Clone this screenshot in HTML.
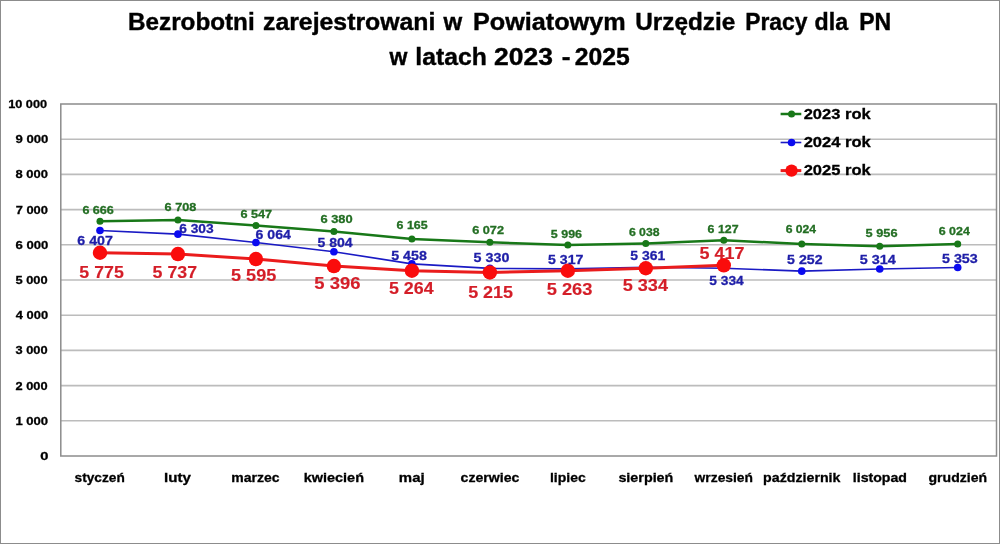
<!DOCTYPE html>
<html><head><meta charset="utf-8"><style>
html,body{margin:0;padding:0;background:#fff;}
svg{display:block;will-change:transform;}
text{font-family:"Liberation Sans", sans-serif;font-weight:bold;}
</style></head><body>
<svg width="1000" height="544" viewBox="0 0 1000 544">
<rect x="0.5" y="0.5" width="999" height="543" fill="#fff" stroke="#8c8c8c" stroke-width="1"/>
<line x1="60.8" y1="420.80" x2="996.5" y2="420.80" stroke="#bcbcbc" stroke-width="1.6"/>
<line x1="60.8" y1="385.60" x2="996.5" y2="385.60" stroke="#bcbcbc" stroke-width="1.6"/>
<line x1="60.8" y1="350.40" x2="996.5" y2="350.40" stroke="#bcbcbc" stroke-width="1.6"/>
<line x1="60.8" y1="315.20" x2="996.5" y2="315.20" stroke="#bcbcbc" stroke-width="1.6"/>
<line x1="60.8" y1="280.00" x2="996.5" y2="280.00" stroke="#bcbcbc" stroke-width="1.6"/>
<line x1="60.8" y1="244.80" x2="996.5" y2="244.80" stroke="#bcbcbc" stroke-width="1.6"/>
<line x1="60.8" y1="209.60" x2="996.5" y2="209.60" stroke="#bcbcbc" stroke-width="1.6"/>
<line x1="60.8" y1="174.40" x2="996.5" y2="174.40" stroke="#bcbcbc" stroke-width="1.6"/>
<line x1="60.8" y1="139.20" x2="996.5" y2="139.20" stroke="#bcbcbc" stroke-width="1.6"/>
<rect x="60.8" y="104.0" width="935.7" height="352.0" fill="none" stroke="#8c8c8c" stroke-width="1.5"/>
<polyline points="99.99,221.36 177.96,219.88 255.94,225.55 333.91,231.42 411.89,238.99 489.86,242.27 567.84,244.94 645.81,243.46 723.79,240.33 801.76,243.96 879.74,246.35 957.71,243.96" fill="none" stroke="#187818" stroke-width="2.5" stroke-linejoin="round"/><circle cx="99.99" cy="221.36" r="3.5" fill="#187818"/><circle cx="177.96" cy="219.88" r="3.5" fill="#187818"/><circle cx="255.94" cy="225.55" r="3.5" fill="#187818"/><circle cx="333.91" cy="231.42" r="3.5" fill="#187818"/><circle cx="411.89" cy="238.99" r="3.5" fill="#187818"/><circle cx="489.86" cy="242.27" r="3.5" fill="#187818"/><circle cx="567.84" cy="244.94" r="3.5" fill="#187818"/><circle cx="645.81" cy="243.46" r="3.5" fill="#187818"/><circle cx="723.79" cy="240.33" r="3.5" fill="#187818"/><circle cx="801.76" cy="243.96" r="3.5" fill="#187818"/><circle cx="879.74" cy="246.35" r="3.5" fill="#187818"/><circle cx="957.71" cy="243.96" r="3.5" fill="#187818"/>
<polyline points="99.99,230.47 177.96,234.13 255.94,242.55 333.91,251.70 411.89,263.88 489.86,268.38 567.84,268.84 645.81,267.29 723.79,268.24 801.76,271.13 879.74,268.95 957.71,267.57" fill="none" stroke="#1a1ac4" stroke-width="1.6" stroke-linejoin="round"/><circle cx="99.99" cy="230.47" r="3.8" fill="#0a0af0"/><circle cx="177.96" cy="234.13" r="3.8" fill="#0a0af0"/><circle cx="255.94" cy="242.55" r="3.8" fill="#0a0af0"/><circle cx="333.91" cy="251.70" r="3.8" fill="#0a0af0"/><circle cx="411.89" cy="263.88" r="3.8" fill="#0a0af0"/><circle cx="489.86" cy="268.38" r="3.8" fill="#0a0af0"/><circle cx="567.84" cy="268.84" r="3.8" fill="#0a0af0"/><circle cx="645.81" cy="267.29" r="3.8" fill="#0a0af0"/><circle cx="723.79" cy="268.24" r="3.8" fill="#0a0af0"/><circle cx="801.76" cy="271.13" r="3.8" fill="#0a0af0"/><circle cx="879.74" cy="268.95" r="3.8" fill="#0a0af0"/><circle cx="957.71" cy="267.57" r="3.8" fill="#0a0af0"/>
<polyline points="99.99,252.72 177.96,254.06 255.94,259.06 333.91,266.06 411.89,270.71 489.86,272.43 567.84,270.74 645.81,268.24 723.79,265.32" fill="none" stroke="#ea1c1c" stroke-width="3.0" stroke-linejoin="round"/><circle cx="99.99" cy="252.72" r="7.2" fill="#fa0c0c"/><circle cx="177.96" cy="254.06" r="7.2" fill="#fa0c0c"/><circle cx="255.94" cy="259.06" r="7.2" fill="#fa0c0c"/><circle cx="333.91" cy="266.06" r="7.2" fill="#fa0c0c"/><circle cx="411.89" cy="270.71" r="7.2" fill="#fa0c0c"/><circle cx="489.86" cy="272.43" r="7.2" fill="#fa0c0c"/><circle cx="567.84" cy="270.74" r="7.2" fill="#fa0c0c"/><circle cx="645.81" cy="268.24" r="7.2" fill="#fa0c0c"/><circle cx="723.79" cy="265.32" r="7.2" fill="#fa0c0c"/>
<line x1="780.6" y1="114.0" x2="801.3" y2="114.0" stroke="#187818" stroke-width="2.5"/>
<circle cx="791.5500000000001" cy="114.0" r="3.5" fill="#187818"/>
<line x1="780.6" y1="142.5" x2="801.3" y2="142.5" stroke="#1a1ac4" stroke-width="1.6"/>
<circle cx="791.5500000000001" cy="142.5" r="3.8" fill="#0a0af0"/>
<line x1="780.6" y1="170.6" x2="801.3" y2="170.6" stroke="#ea1c1c" stroke-width="3.0"/>
<circle cx="791.5500000000001" cy="170.6" r="6.2" fill="#fa0c0c"/>
<text x="128.08" y="29.90" font-size="24.30" fill="#000" stroke="#000" stroke-width="0.4" textLength="126.59" lengthAdjust="spacingAndGlyphs">Bezrobotni</text>
<text x="262.97" y="29.90" font-size="24.30" fill="#000" stroke="#000" stroke-width="0.4" textLength="172.42" lengthAdjust="spacingAndGlyphs">zarejestrowani</text>
<text x="443.44" y="29.90" font-size="24.30" fill="#000" stroke="#000" stroke-width="0.4" textLength="18.70" lengthAdjust="spacingAndGlyphs">w</text>
<text x="472.95" y="29.90" font-size="24.30" fill="#000" stroke="#000" stroke-width="0.4" textLength="152.72" lengthAdjust="spacingAndGlyphs">Powiatowym</text>
<text x="635.26" y="29.90" font-size="24.30" fill="#000" stroke="#000" stroke-width="0.4" textLength="100.05" lengthAdjust="spacingAndGlyphs">Urzędzie</text>
<text x="745.15" y="29.90" font-size="24.30" fill="#000" stroke="#000" stroke-width="0.4" textLength="62.31" lengthAdjust="spacingAndGlyphs">Pracy</text>
<text x="814.62" y="29.90" font-size="24.30" fill="#000" stroke="#000" stroke-width="0.4" textLength="33.50" lengthAdjust="spacingAndGlyphs">dla</text>
<text x="859.19" y="29.90" font-size="24.30" fill="#000" stroke="#000" stroke-width="0.4" textLength="32.05" lengthAdjust="spacingAndGlyphs">PN</text>
<text x="389.49" y="65.40" font-size="24.30" fill="#000" stroke="#000" stroke-width="0.4" textLength="17.90" lengthAdjust="spacingAndGlyphs">w</text>
<text x="415.39" y="65.40" font-size="24.30" fill="#000" stroke="#000" stroke-width="0.4" textLength="71.50" lengthAdjust="spacingAndGlyphs">latach</text>
<text x="494.13" y="65.40" font-size="24.30" fill="#000" stroke="#000" stroke-width="0.4" textLength="58.79" lengthAdjust="spacingAndGlyphs">2023</text>
<text x="561.67" y="65.40" font-size="24.30" fill="#000" stroke="#000" stroke-width="0.4" textLength="8.76" lengthAdjust="spacingAndGlyphs">-</text>
<text x="574.74" y="65.40" font-size="24.30" fill="#000" stroke="#000" stroke-width="0.4" textLength="54.97" lengthAdjust="spacingAndGlyphs">2025</text>
<text x="40.39" y="460.00" font-size="11.60" fill="#000" stroke="#000" stroke-width="0.3" textLength="8.18" lengthAdjust="spacingAndGlyphs">0</text>
<text x="15.41" y="424.80" font-size="11.60" fill="#000" stroke="#000" stroke-width="0.3" textLength="32.71" lengthAdjust="spacingAndGlyphs">1 000</text>
<text x="15.56" y="389.60" font-size="11.60" fill="#000" stroke="#000" stroke-width="0.3" textLength="32.01" lengthAdjust="spacingAndGlyphs">2 000</text>
<text x="15.49" y="354.40" font-size="11.60" fill="#000" stroke="#000" stroke-width="0.3" textLength="32.11" lengthAdjust="spacingAndGlyphs">3 000</text>
<text x="15.88" y="319.20" font-size="11.60" fill="#000" stroke="#000" stroke-width="0.3" textLength="32.23" lengthAdjust="spacingAndGlyphs">4 000</text>
<text x="15.45" y="284.00" font-size="11.60" fill="#000" stroke="#000" stroke-width="0.3" textLength="32.14" lengthAdjust="spacingAndGlyphs">5 000</text>
<text x="15.48" y="248.80" font-size="11.60" fill="#000" stroke="#000" stroke-width="0.3" textLength="32.74" lengthAdjust="spacingAndGlyphs">6 000</text>
<text x="15.71" y="213.60" font-size="11.60" fill="#000" stroke="#000" stroke-width="0.3" textLength="32.25" lengthAdjust="spacingAndGlyphs">7 000</text>
<text x="15.55" y="178.40" font-size="11.60" fill="#000" stroke="#000" stroke-width="0.3" textLength="32.38" lengthAdjust="spacingAndGlyphs">8 000</text>
<text x="15.49" y="143.20" font-size="11.60" fill="#000" stroke="#000" stroke-width="0.3" textLength="32.81" lengthAdjust="spacingAndGlyphs">9 000</text>
<text x="8.18" y="108.00" font-size="11.60" fill="#000" stroke="#000" stroke-width="0.3" textLength="38.93" lengthAdjust="spacingAndGlyphs">10 000</text>
<text x="803.69" y="118.80" font-size="15.00" fill="#000" stroke="#000" stroke-width="0.3" textLength="67.01" lengthAdjust="spacingAndGlyphs">2023 rok</text>
<text x="803.69" y="147.10" font-size="15.00" fill="#000" stroke="#000" stroke-width="0.3" textLength="67.01" lengthAdjust="spacingAndGlyphs">2024 rok</text>
<text x="803.69" y="175.30" font-size="15.00" fill="#000" stroke="#000" stroke-width="0.3" textLength="67.01" lengthAdjust="spacingAndGlyphs">2025 rok</text>
<text x="82.42" y="214.02" font-size="11.00" fill="#236e23" stroke="#236e23" stroke-width="0.3" textLength="31.35" lengthAdjust="spacingAndGlyphs">6 666</text>
<text x="164.64" y="210.99" font-size="11.00" fill="#236e23" stroke="#236e23" stroke-width="0.3" textLength="31.73" lengthAdjust="spacingAndGlyphs">6 708</text>
<text x="240.43" y="218.27" font-size="11.00" fill="#236e23" stroke="#236e23" stroke-width="0.3" textLength="31.76" lengthAdjust="spacingAndGlyphs">6 547</text>
<text x="320.49" y="222.71" font-size="11.00" fill="#236e23" stroke="#236e23" stroke-width="0.3" textLength="32.17" lengthAdjust="spacingAndGlyphs">6 380</text>
<text x="396.63" y="229.17" font-size="11.00" fill="#236e23" stroke="#236e23" stroke-width="0.3" textLength="31.03" lengthAdjust="spacingAndGlyphs">6 165</text>
<text x="472.19" y="233.59" font-size="11.00" fill="#236e23" stroke="#236e23" stroke-width="0.3" textLength="31.80" lengthAdjust="spacingAndGlyphs">6 072</text>
<text x="550.89" y="237.56" font-size="11.00" fill="#236e23" stroke="#236e23" stroke-width="0.3" textLength="31.18" lengthAdjust="spacingAndGlyphs">5 996</text>
<text x="628.90" y="236.07" font-size="11.00" fill="#236e23" stroke="#236e23" stroke-width="0.3" textLength="30.62" lengthAdjust="spacingAndGlyphs">6 038</text>
<text x="707.64" y="232.99" font-size="11.00" fill="#236e23" stroke="#236e23" stroke-width="0.3" textLength="30.98" lengthAdjust="spacingAndGlyphs">6 127</text>
<text x="785.66" y="232.85" font-size="11.00" fill="#236e23" stroke="#236e23" stroke-width="0.3" textLength="30.47" lengthAdjust="spacingAndGlyphs">6 024</text>
<text x="865.60" y="237.07" font-size="11.00" fill="#236e23" stroke="#236e23" stroke-width="0.3" textLength="31.89" lengthAdjust="spacingAndGlyphs">5 956</text>
<text x="938.77" y="234.71" font-size="11.00" fill="#236e23" stroke="#236e23" stroke-width="0.3" textLength="31.08" lengthAdjust="spacingAndGlyphs">6 024</text>
<text x="77.30" y="244.68" font-size="13.65" fill="#1e1ea8" stroke="#1e1ea8" stroke-width="0.3" textLength="35.64" lengthAdjust="spacingAndGlyphs">6 407</text>
<text x="179.18" y="232.99" font-size="13.65" fill="#1e1ea8" stroke="#1e1ea8" stroke-width="0.3" textLength="34.52" lengthAdjust="spacingAndGlyphs">6 303</text>
<text x="255.58" y="238.90" font-size="13.65" fill="#1e1ea8" stroke="#1e1ea8" stroke-width="0.3" textLength="35.39" lengthAdjust="spacingAndGlyphs">6 064</text>
<text x="317.54" y="247.28" font-size="13.65" fill="#1e1ea8" stroke="#1e1ea8" stroke-width="0.3" textLength="35.08" lengthAdjust="spacingAndGlyphs">5 804</text>
<text x="391.15" y="259.58" font-size="13.65" fill="#1e1ea8" stroke="#1e1ea8" stroke-width="0.3" textLength="35.68" lengthAdjust="spacingAndGlyphs">5 458</text>
<text x="473.62" y="261.66" font-size="13.65" fill="#1e1ea8" stroke="#1e1ea8" stroke-width="0.3" textLength="35.79" lengthAdjust="spacingAndGlyphs">5 330</text>
<text x="548.03" y="263.90" font-size="13.65" fill="#1e1ea8" stroke="#1e1ea8" stroke-width="0.3" textLength="35.39" lengthAdjust="spacingAndGlyphs">5 317</text>
<text x="630.35" y="260.24" font-size="13.65" fill="#1e1ea8" stroke="#1e1ea8" stroke-width="0.3" textLength="34.97" lengthAdjust="spacingAndGlyphs">5 361</text>
<text x="709.31" y="285.34" font-size="13.65" fill="#1e1ea8" stroke="#1e1ea8" stroke-width="0.3" textLength="34.48" lengthAdjust="spacingAndGlyphs">5 334</text>
<text x="787.14" y="264.46" font-size="13.65" fill="#1e1ea8" stroke="#1e1ea8" stroke-width="0.3" textLength="35.45" lengthAdjust="spacingAndGlyphs">5 252</text>
<text x="859.65" y="264.30" font-size="13.65" fill="#1e1ea8" stroke="#1e1ea8" stroke-width="0.3" textLength="36.04" lengthAdjust="spacingAndGlyphs">5 314</text>
<text x="941.98" y="262.75" font-size="13.65" fill="#1e1ea8" stroke="#1e1ea8" stroke-width="0.3" textLength="35.76" lengthAdjust="spacingAndGlyphs">5 353</text>
<text x="79.38" y="277.96" font-size="17.00" fill="#d41e28" stroke="#d41e28" stroke-width="0.15" textLength="44.52" lengthAdjust="spacingAndGlyphs">5 775</text>
<text x="152.56" y="277.83" font-size="17.00" fill="#d41e28" stroke="#d41e28" stroke-width="0.15" textLength="44.53" lengthAdjust="spacingAndGlyphs">5 737</text>
<text x="231.01" y="281.20" font-size="17.00" fill="#d41e28" stroke="#d41e28" stroke-width="0.15" textLength="45.25" lengthAdjust="spacingAndGlyphs">5 595</text>
<text x="314.38" y="288.51" font-size="17.00" fill="#d41e28" stroke="#d41e28" stroke-width="0.15" textLength="46.11" lengthAdjust="spacingAndGlyphs">5 396</text>
<text x="388.93" y="294.41" font-size="17.00" fill="#d41e28" stroke="#d41e28" stroke-width="0.15" textLength="44.71" lengthAdjust="spacingAndGlyphs">5 264</text>
<text x="468.15" y="297.85" font-size="17.00" fill="#d41e28" stroke="#d41e28" stroke-width="0.15" textLength="44.96" lengthAdjust="spacingAndGlyphs">5 215</text>
<text x="546.65" y="294.87" font-size="17.00" fill="#d41e28" stroke="#d41e28" stroke-width="0.15" textLength="45.80" lengthAdjust="spacingAndGlyphs">5 263</text>
<text x="622.65" y="291.01" font-size="17.00" fill="#d41e28" stroke="#d41e28" stroke-width="0.15" textLength="45.35" lengthAdjust="spacingAndGlyphs">5 334</text>
<text x="699.57" y="258.85" font-size="17.00" fill="#d41e28" stroke="#d41e28" stroke-width="0.15" textLength="45.04" lengthAdjust="spacingAndGlyphs">5 417</text>
<text x="74.58" y="481.50" font-size="13.20" fill="#000" stroke="#000" stroke-width="0.3" textLength="50.17" lengthAdjust="spacingAndGlyphs">styczeń</text>
<text x="164.01" y="481.50" font-size="13.20" fill="#000" stroke="#000" stroke-width="0.3" textLength="26.84" lengthAdjust="spacingAndGlyphs">luty</text>
<text x="231.28" y="481.50" font-size="13.20" fill="#000" stroke="#000" stroke-width="0.3" textLength="48.26" lengthAdjust="spacingAndGlyphs">marzec</text>
<text x="303.77" y="481.50" font-size="13.20" fill="#000" stroke="#000" stroke-width="0.3" textLength="60.21" lengthAdjust="spacingAndGlyphs">kwiecień</text>
<text x="398.84" y="481.50" font-size="13.20" fill="#000" stroke="#000" stroke-width="0.3" textLength="25.82" lengthAdjust="spacingAndGlyphs">maj</text>
<text x="460.58" y="481.50" font-size="13.20" fill="#000" stroke="#000" stroke-width="0.3" textLength="58.73" lengthAdjust="spacingAndGlyphs">czerwiec</text>
<text x="549.96" y="481.50" font-size="13.20" fill="#000" stroke="#000" stroke-width="0.3" textLength="35.79" lengthAdjust="spacingAndGlyphs">lipiec</text>
<text x="618.42" y="481.50" font-size="13.20" fill="#000" stroke="#000" stroke-width="0.3" textLength="54.93" lengthAdjust="spacingAndGlyphs">sierpień</text>
<text x="694.64" y="481.50" font-size="13.20" fill="#000" stroke="#000" stroke-width="0.3" textLength="58.32" lengthAdjust="spacingAndGlyphs">wrzesień</text>
<text x="763.11" y="481.50" font-size="13.20" fill="#000" stroke="#000" stroke-width="0.3" textLength="77.33" lengthAdjust="spacingAndGlyphs">październik</text>
<text x="852.79" y="481.50" font-size="13.20" fill="#000" stroke="#000" stroke-width="0.3" textLength="54.24" lengthAdjust="spacingAndGlyphs">listopad</text>
<text x="928.52" y="481.50" font-size="13.20" fill="#000" stroke="#000" stroke-width="0.3" textLength="58.52" lengthAdjust="spacingAndGlyphs">grudzień</text>
</svg></body></html>
